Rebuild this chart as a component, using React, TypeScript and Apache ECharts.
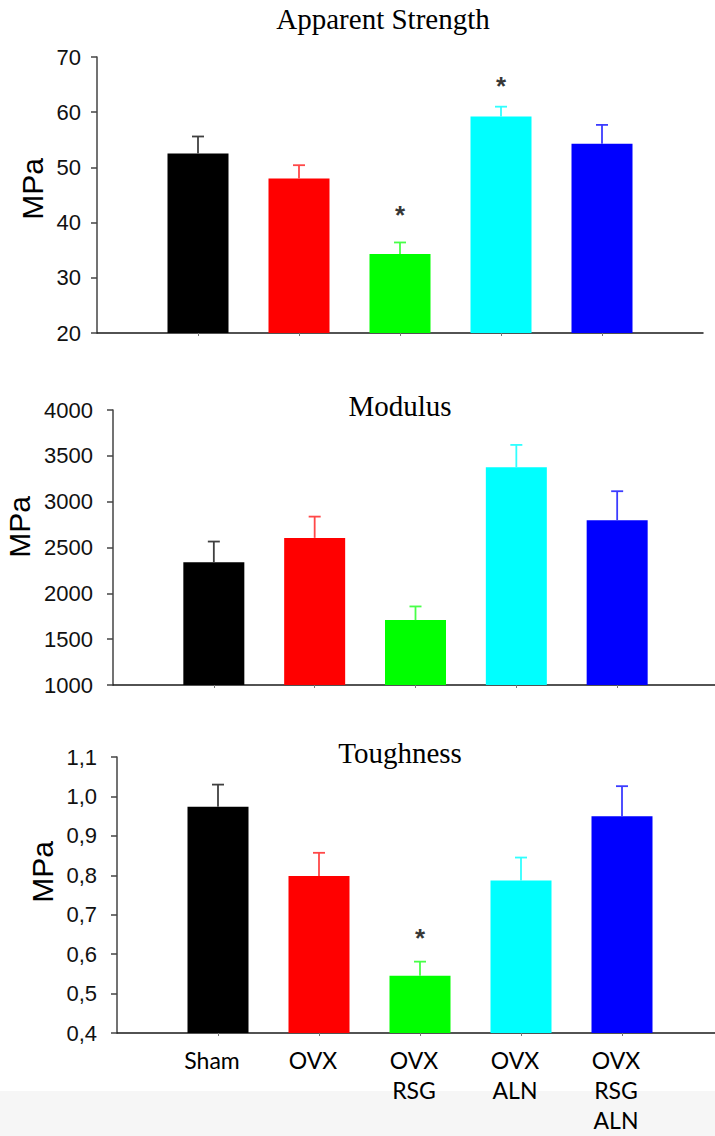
import React, { useEffect, useRef } from "react";
import * as echarts from "echarts";

const groups = ["Sham", "OVX", "OVX\nRSG", "OVX\nALN", "OVX\nRSG\nALN"];
const barColors = ["#000000", "#ff0000", "#00ff00", "#00ffff", "#0000ff"];
const errColors = ["#404040", "#ff4848", "#48ff48", "#30ffff", "#3c3cff"];

const strengthMean = [52.5, 48.0, 34.3, 59.2, 54.3];
const strengthUpper = [55.6, 50.4, 36.4, 61.0, 57.7];
const strengthStars = [[2, 42.4], [3, 65.8]];

const modulusMean = [2340, 2605, 1708, 3375, 2798];
const modulusUpper = [2565, 2837, 1857, 3619, 3114];
const modulusStars: number[][] = [];

const toughMean = [0.974, 0.798, 0.545, 0.787, 0.95];
const toughUpper = [1.03, 0.857, 0.581, 0.845, 1.026];
const toughStars = [[2, 0.656]];

const titles = ["Apparent Strength", "Modulus", "Toughness"];
const yMin = [20, 1000, 0.4];
const yMax = [70, 4000, 1.1];
const yStep = [10, 500, 0.1];

export default function App() {
  const ref = useRef<HTMLDivElement>(null);
  useEffect(() => {
    if (!ref.current) return;
    const chart = echarts.init(ref.current, null, { renderer: "svg" });
    const cats = ["", ...groups, ""];
    const grids = [
      { left: 97, top: 57, width: 606, height: 276, outerBoundsMode: "none", containLabel: false },
      { left: 113, top: 410, width: 605, height: 275, outerBoundsMode: "none", containLabel: false },
      { left: 117, top: 757, width: 606, height: 276, outerBoundsMode: "none", containLabel: false },
    ];
    const means = [strengthMean, modulusMean, toughMean];
    const uppers = [strengthUpper, modulusUpper, toughUpper];
    const stars = [strengthStars, modulusStars, toughStars];

    const xAxis = grids.map((_, gi) => ({
      type: "category",
      gridIndex: gi,
      data: cats,
      boundaryGap: false,
      axisLine: { lineStyle: { color: "#1a1a1a", width: 1.5 } },
      axisTick: {
        show: true,
        length: 3,
        interval: (i: number) => i > 0 && i < cats.length - 1,
        lineStyle: { color: "#777" },
      },
      axisLabel: {
        show: gi === 2,
        interval: 0,
        margin: 12,
        fontFamily: "Lato",
        fontSize: 23,
        lineHeight: 30,
        color: "#000",
        verticalAlign: "top",
        padding: [0, 12, 0, 0],
      },
      splitLine: { show: false },
    }));

    const yAxis = grids.map((_, gi) => ({
      type: "value",
      gridIndex: gi,
      min: yMin[gi],
      max: yMax[gi],
      interval: yStep[gi],
      axisLine: { show: true, lineStyle: { color: "#444", width: 1.5 } },
      axisTick: { show: true, length: 6, lineStyle: { color: "#444", width: 1.5 } },
      axisLabel: {
        margin: gi === 0 ? 16 : 20,
        fontFamily: "Liberation Sans",
        fontSize: 22,
        color: "#111",
        formatter: (v: number) =>
          gi === 2 ? v.toFixed(1).replace(".", ",") : String(Math.round(v)),
      },
      splitLine: { show: false },
    }));

    const series: any[] = [];
    grids.forEach((_, gi) => {
      series.push({
        type: "bar",
        xAxisIndex: gi,
        yAxisIndex: gi,
        barWidth: 61,
        data: means[gi].map((v, i) => ({
          value: [i + 1, v],
          itemStyle: { color: barColors[i] },
        })),
      });
      series.push({
        type: "custom",
        xAxisIndex: gi,
        yAxisIndex: gi,
        z: 3,
        data: means[gi].map((v, i) => [i + 1, v, uppers[gi][i]]),
        renderItem: (params: any, api: any) => {
          const x = api.value(0);
          const p1 = api.coord([x, api.value(1)]);
          const p2 = api.coord([x, api.value(2)]);
          const c = errColors[params.dataIndex];
          const st = { stroke: c, lineWidth: 1.8 };
          return {
            type: "group",
            children: [
              { type: "line", shape: { x1: p1[0], y1: p1[1], x2: p2[0], y2: p2[1] }, style: st },
              { type: "line", shape: { x1: p2[0] - 6, y1: p2[1], x2: p2[0] + 6, y2: p2[1] }, style: st },
            ],
          };
        },
      });
      if (stars[gi].length) {
        series.push({
          type: "scatter",
          xAxisIndex: gi,
          yAxisIndex: gi,
          symbolSize: 1,
          itemStyle: { color: "rgba(0,0,0,0)" },
          data: stars[gi].map((s) => [s[0] + 1, s[1]]),
          label: {
            show: true,
            position: "inside",
            formatter: "*",
            offset: [0, 6],
            fontFamily: "Liberation Sans",
            fontWeight: "bold",
            fontSize: 26,
            color: "#000",
          },
        });
      }
    });

    const titlePos = [
      [383, 19],
      [400, 406],
      [400, 753],
    ];
    const mpaPos = [
      [32, 189],
      [19, 527],
      [42, 872],
    ];

    const graphic: any[] = [
      {
        type: "rect",
        z: -10,
        shape: { x: 0, y: 1091, width: 715, height: 45 },
        style: { fill: "#f6f6f6" },
      },
    ];
    titles.forEach((t, i) => {
      graphic.push({
        type: "text",
        x: titlePos[i][0],
        y: titlePos[i][1],
        style: {
          text: t,
          fontFamily: "Liberation Serif",
          fontSize: 29,
          fill: "#000",
          align: "center",
          verticalAlign: "middle",
        },
      });
      graphic.push({
        type: "text",
        x: mpaPos[i][0],
        y: mpaPos[i][1],
        rotation: Math.PI / 2,
        style: {
          text: "MPa",
          fontFamily: "Liberation Sans",
          fontSize: 30,
          fill: "#000",
          align: "center",
          verticalAlign: "middle",
        },
      });
    });

    chart.setOption({
      animation: false,
      backgroundColor: "#ffffff",
      grid: grids,
      xAxis,
      yAxis,
      series,
      graphic,
    });
    return () => chart.dispose();
  }, []);
  return (
    <div
      ref={ref}
      style={{ position: "absolute", left: 0, top: 0, width: 715, height: 1136 }}
    />
  );
}
